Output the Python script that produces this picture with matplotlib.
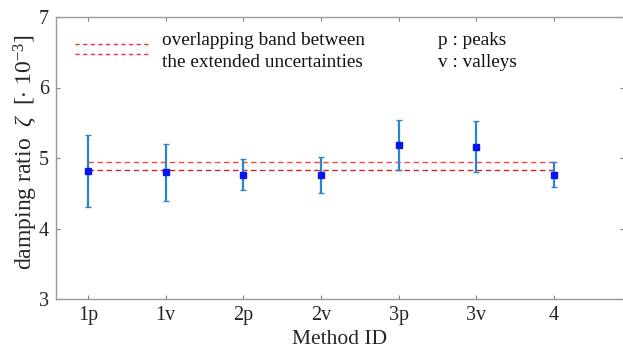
import matplotlib
matplotlib.use("Agg")
import matplotlib.pyplot as plt
import numpy as np

methods = ["1p", "1v", "2p", "2v", "3p", "3v", "4"]
zeta_mean = [4.82, 4.795, 4.76, 4.76, 5.19, 5.15, 4.765]
zeta_upper = [5.33, 5.20, 4.985, 5.02, 5.535, 5.52, 4.943]
zeta_lower = [4.30, 4.39, 4.54, 4.51, 4.835, 4.795, 4.585]
yticks = [3, 4, 5, 6, 7]

plt.rcParams['font.family'] = ['Liberation Serif', 'DejaVu Serif']
plt.rcParams['mathtext.fontset'] = 'custom'
plt.rcParams['mathtext.rm'] = 'Liberation Serif'
plt.rcParams['mathtext.it'] = 'Liberation Serif:italic'

fig = plt.figure(figsize=(6.23, 3.53), dpi=100)
ax = fig.add_axes([56/623, 54/353, 568/623, 282/353])

x = np.arange(1, len(methods) + 1)
mean = np.array(zeta_mean)
up = np.array(zeta_upper)
lo = np.array(zeta_lower)

band_top = up.min()
band_bot = lo.max()

ax.plot([x[0], x[-1]], [band_top, band_top], ls=(0, (4, 2.5)), color='#f04a4a', lw=1.0, zorder=2)
ax.plot([x[0], x[-1]], [band_bot, band_bot], ls=(0, (4, 2.5)), color='#c8282c', lw=1.0, zorder=2)

ax.errorbar(x, mean, yerr=[mean - lo, up - mean], fmt='none', ecolor='#2a86c6',
            elinewidth=1.6, capsize=2.4, capthick=1.0, zorder=3)
ax.plot(x, mean, 's', color='#0a14f0', ms=4.3, mec='#0a14f0', zorder=4, ls='none')

# legend-like annotation
ax.plot([0.83, 1.77], [6.62, 6.62], ls=(0, (3, 2.5)), color='#ff2a2a', lw=1.0)
ax.plot([0.83, 1.77], [6.47, 6.47], ls=(0, (3, 2.5)), color='#ff2a2a', lw=1.0)
fs = 13.9
ax.text(1.96, 6.67, "overlapping band between", fontsize=fs, va='center', ha='left', color='#111111')
ax.text(1.96, 6.35, "the extended uncertainties", fontsize=fs, va='center', ha='left', color='#111111')
ax.text(5.51, 6.67, "p : peaks", fontsize=fs, va='center', ha='left', color='#111111')
ax.text(5.51, 6.35, "v : valleys", fontsize=fs, va='center', ha='left', color='#111111')

ax.set_xlim(0.59, 7.9)
ax.set_ylim(3, 7)
ax.set_xticks(x)
ax.set_xticklabels(methods)
ax.set_yticks(yticks)
ax.tick_params(direction='in', length=3, width=0.8, color='#808080', labelcolor='#262626',
               labelsize=14.5, top=True, right=True)
ax.tick_params(axis='x', pad=5)
ax.tick_params(axis='y', pad=5)
for s in ax.spines.values():
    s.set_color('#999999')
    s.set_linewidth(1.0)

ax.set_xlabel("Method ID", fontsize=15.5, color='#262626', labelpad=4)
ax.set_ylabel(r"damping ratio  $\zeta$  [$\cdot$ 10$^{-3}$]", fontsize=17, color='#262626', labelpad=2)
ax.yaxis.set_label_coords(-16/568, 0.52)

fig.savefig("out.png", dpi=100)
